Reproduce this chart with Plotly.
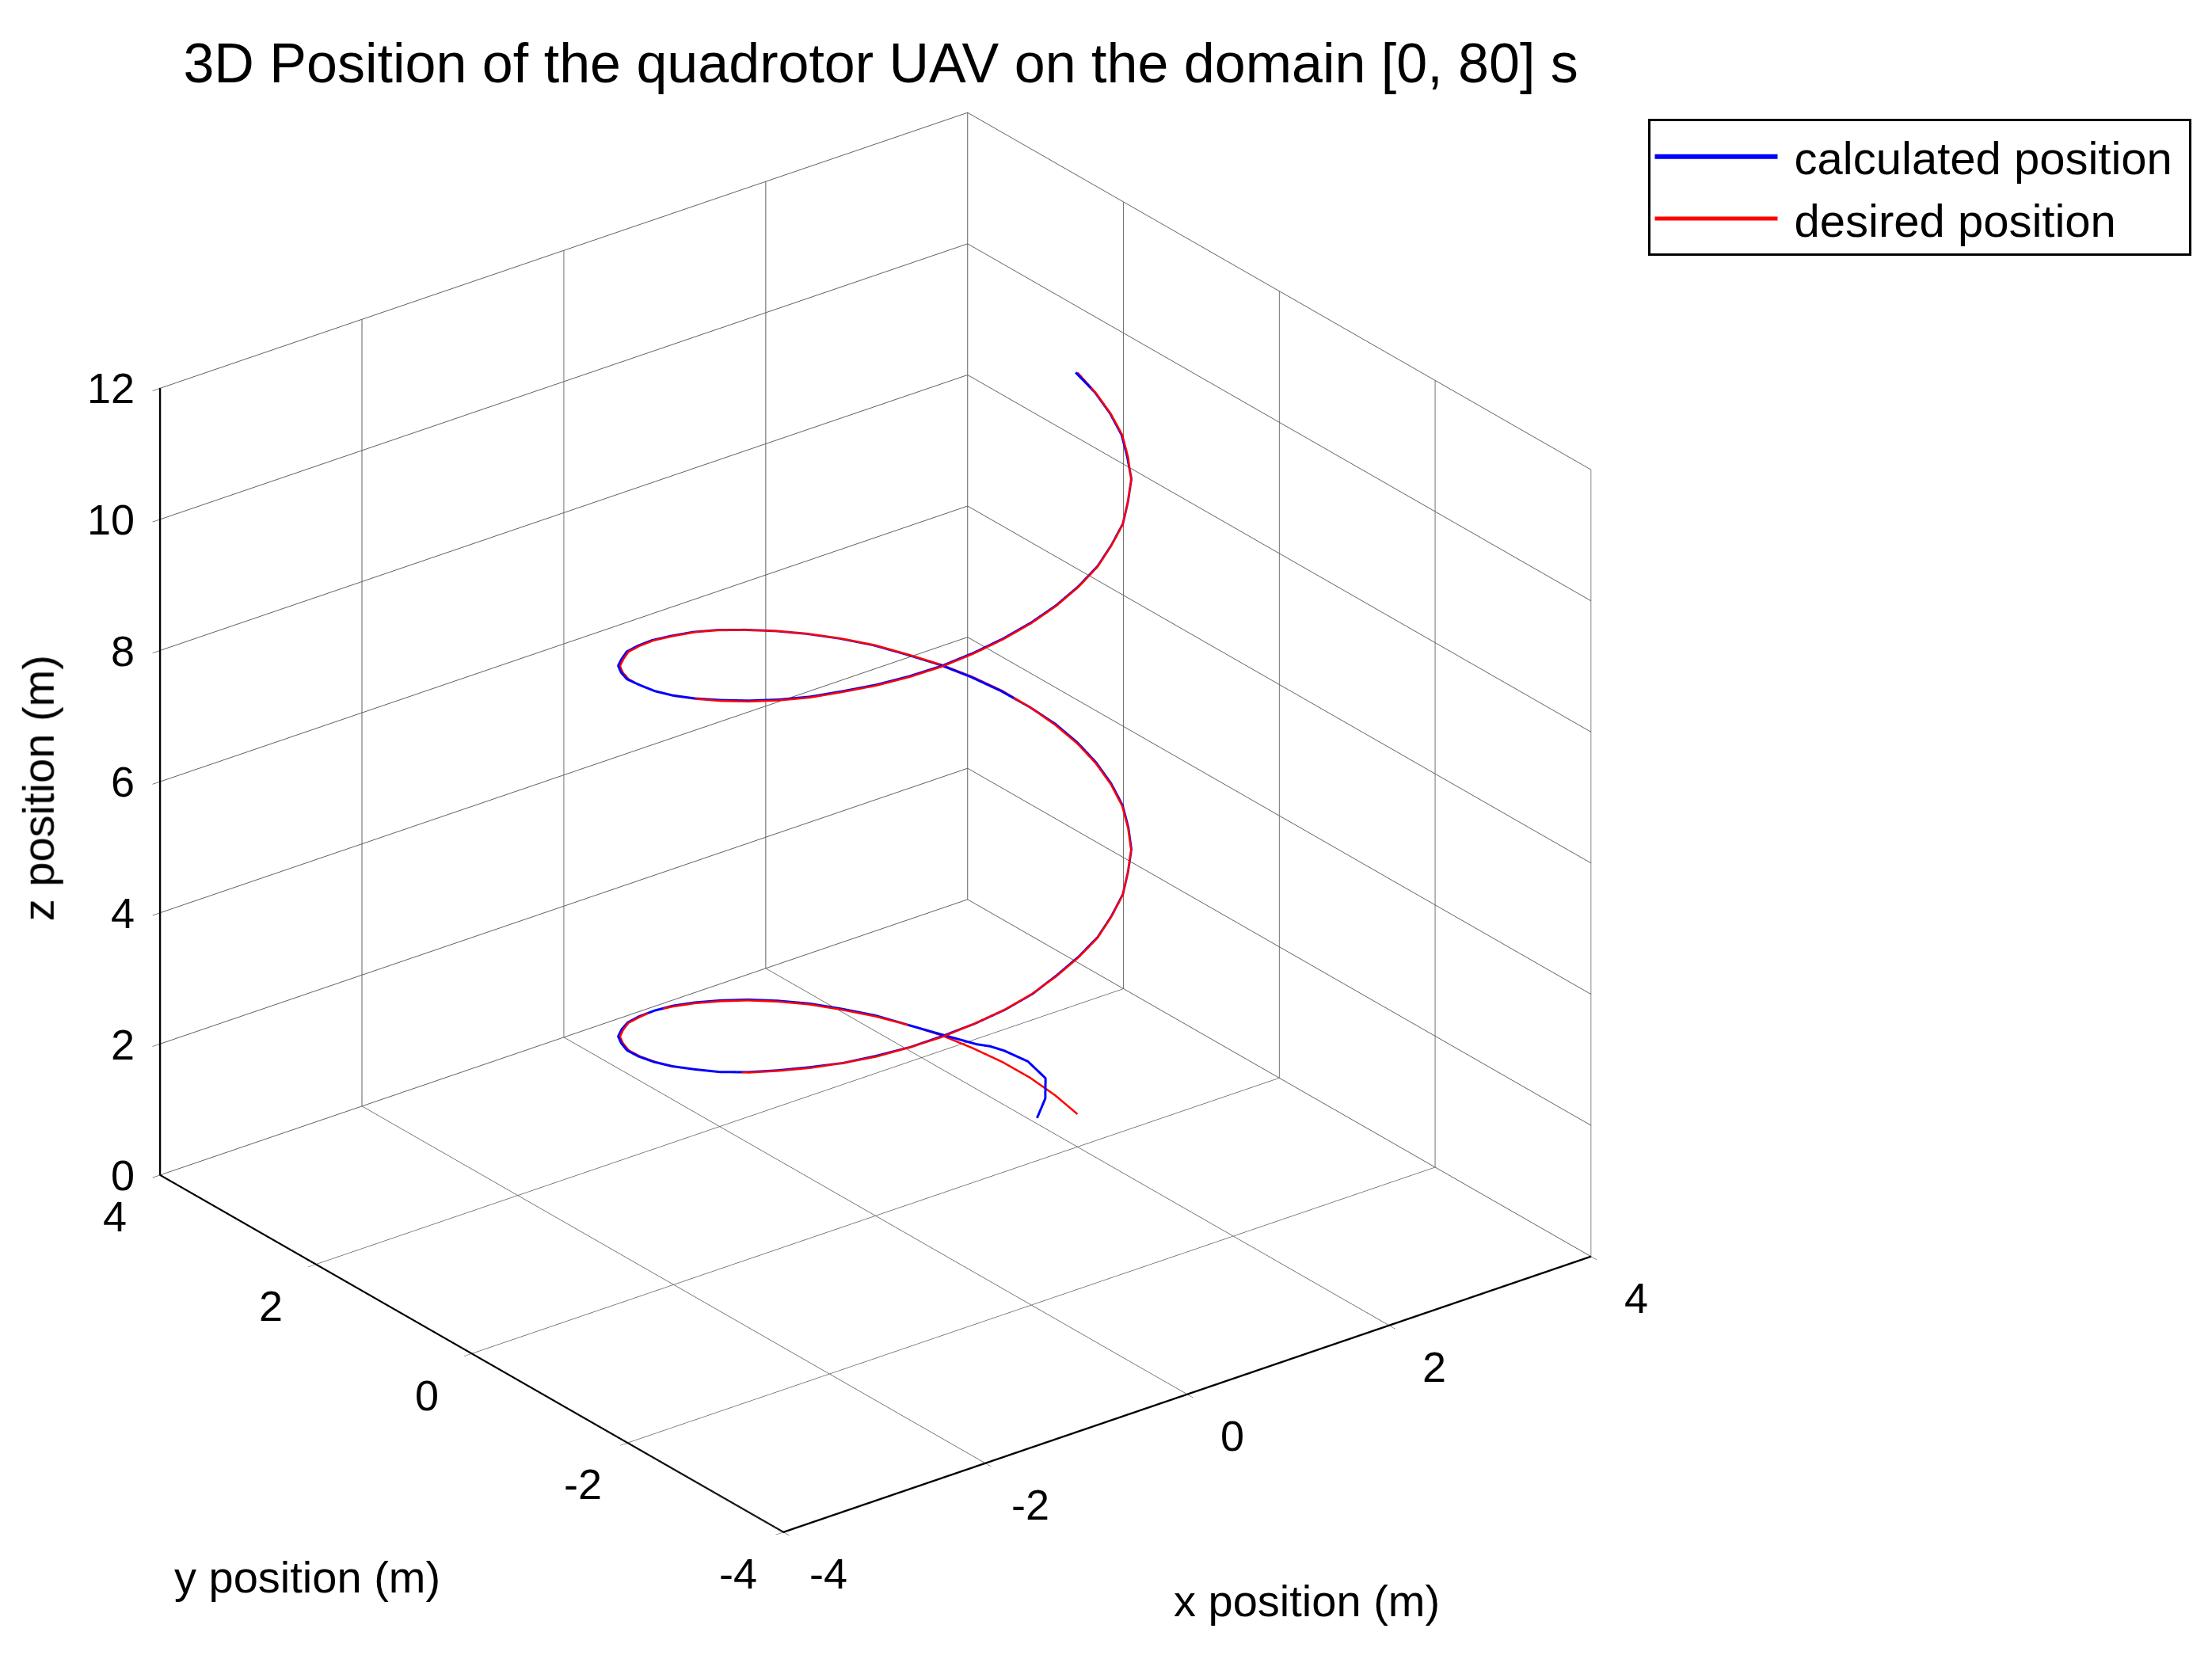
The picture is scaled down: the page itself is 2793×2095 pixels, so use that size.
import plotly.graph_objects as go

DESIRED_X = [2.00, 1.98, 1.93, 1.85, 1.73, 1.59, 1.41, 1.22, 1.00, 0.77, 0.52, 0.26,
             0.00, -0.26, -0.52, -0.77, -1.00, -1.22, -1.41, -1.59, -1.73, -1.85, -1.93, -1.98,
             -2.00, -1.98, -1.93, -1.85, -1.73, -1.59, -1.41, -1.22, -1.00, -0.77, -0.52, -0.26,
             0.00, 0.26, 0.52, 0.77, 1.00, 1.22, 1.41, 1.59, 1.73, 1.85, 1.93, 1.98,
             2.00, 1.98, 1.93, 1.85, 1.73, 1.59, 1.41, 1.22, 1.00, 0.77, 0.52, 0.26,
             0.00, -0.26, -0.52, -0.77, -1.00, -1.22, -1.41, -1.59, -1.73, -1.85, -1.93, -1.98,
             -2.00, -1.98, -1.93, -1.85, -1.73, -1.59, -1.41, -1.22, -1.00, -0.77, -0.52, -0.26,
             0.00, 0.26, 0.52, 0.77, 1.00, 1.22, 1.41, 1.59, 1.73, 1.85, 1.93, 1.98, 2.00]
DESIRED_Y = [0.00, 0.26, 0.52, 0.77, 1.00, 1.22, 1.41, 1.59, 1.73, 1.85, 1.93, 1.98,
             2.00, 1.98, 1.93, 1.85, 1.73, 1.59, 1.41, 1.22, 1.00, 0.77, 0.52, 0.26,
             0.00, -0.26, -0.52, -0.77, -1.00, -1.22, -1.41, -1.59, -1.73, -1.85, -1.93, -1.98,
             -2.00, -1.98, -1.93, -1.85, -1.73, -1.59, -1.41, -1.22, -1.00, -0.77, -0.52, -0.26,
             0.00, 0.26, 0.52, 0.77, 1.00, 1.22, 1.41, 1.59, 1.73, 1.85, 1.93, 1.98,
             2.00, 1.98, 1.93, 1.85, 1.73, 1.59, 1.41, 1.22, 1.00, 0.77, 0.52, 0.26,
             0.00, -0.26, -0.52, -0.77, -1.00, -1.22, -1.41, -1.59, -1.73, -1.85, -1.93, -1.98,
             -2.00, -1.98, -1.93, -1.85, -1.73, -1.59, -1.41, -1.22, -1.00, -0.77, -0.52, -0.26, 0.00]
DESIRED_Z = [0.50, 0.62, 0.74, 0.85, 0.97, 1.09, 1.21, 1.32, 1.44, 1.56, 1.68, 1.80,
             1.91, 2.03, 2.15, 2.27, 2.38, 2.50, 2.62, 2.74, 2.86, 2.97, 3.09, 3.21,
             3.33, 3.45, 3.56, 3.68, 3.80, 3.92, 4.03, 4.15, 4.27, 4.39, 4.51, 4.62,
             4.74, 4.86, 4.98, 5.09, 5.21, 5.33, 5.45, 5.57, 5.68, 5.80, 5.92, 6.04,
             6.15, 6.27, 6.39, 6.51, 6.63, 6.74, 6.86, 6.98, 7.10, 7.21, 7.33, 7.45,
             7.57, 7.69, 7.80, 7.92, 8.04, 8.16, 8.27, 8.39, 8.51, 8.63, 8.75, 8.86,
             8.98, 9.10, 9.22, 9.34, 9.45, 9.57, 9.69, 9.81, 9.92, 10.04, 10.16, 10.28,
             10.40, 10.51, 10.63, 10.75, 10.87, 10.98, 11.10, 11.22, 11.34, 11.46, 11.57, 11.69, 11.81]

# calculated trajectory (blue): take-off transient, then tracks the desired path
CALC_X = [1.60, 1.72, 1.80, 1.78, 1.70, 1.66, 1.62, 1.52,
          1.41, 1.23, 1.01, 0.78, 0.53, 0.27,
          0.01, -0.25, -0.51, -0.76, -1.00, -1.22, -1.42, -1.60, -1.74, -1.86, -1.94, -1.99,
          -2.01, -1.99, -1.94, -1.85, -1.73, -1.58, -1.41, -1.21, -0.99, -0.76, -0.51, -0.25,
          0.01, 0.27, 0.53, 0.78, 1.01, 1.23, 1.42, 1.60, 1.74, 1.86, 1.94, 1.99,
          2.01, 1.99, 1.93, 1.84, 1.72, 1.58, 1.40, 1.21, 0.99, 0.76, 0.51, 0.25,
          -0.01, -0.27, -0.53, -0.78, -1.01, -1.23, -1.42, -1.60, -1.74, -1.86, -1.93, -1.98,
          -2.00, -1.98, -1.92, -1.84, -1.72, -1.58, -1.40, -1.21, -0.99, -0.76, -0.51, -0.25,
          0.01, 0.27, 0.53, 0.78, 1.01, 1.23, 1.42, 1.60, 1.73, 1.85, 1.93, 1.98, 1.99]
CALC_Y = [0.00, 0.05, 0.15, 0.35, 0.55, 0.68, 0.80, 1.10,
          1.41, 1.60, 1.74, 1.86, 1.94, 1.99,
          2.01, 1.99, 1.94, 1.85, 1.74, 1.60, 1.42, 1.23, 1.01, 0.78, 0.53, 0.27,
          0.01, -0.25, -0.51, -0.76, -0.99, -1.21, -1.41, -1.58, -1.73, -1.84, -1.93, -1.98,
          -2.00, -1.97, -1.92, -1.84, -1.72, -1.58, -1.40, -1.21, -0.99, -0.76, -0.51, -0.25,
          0.01, 0.27, 0.53, 0.78, 1.01, 1.23, 1.42, 1.60, 1.74, 1.86, 1.94, 1.99,
          2.01, 1.99, 1.94, 1.86, 1.74, 1.60, 1.42, 1.23, 1.01, 0.78, 0.53, 0.27,
          0.01, -0.25, -0.51, -0.76, -0.99, -1.21, -1.40, -1.58, -1.72, -1.84, -1.92, -1.97,
          -1.99, -1.97, -1.92, -1.84, -1.72, -1.58, -1.40, -1.21, -0.99, -0.76, -0.51, -0.25, 0.01]
CALC_Z = [0.65, 0.85, 1.05, 1.18, 1.25, 1.25, 1.22, 1.21,
          1.21, 1.32, 1.44, 1.56, 1.68, 1.80,
          1.91, 2.03, 2.15, 2.27, 2.38, 2.50, 2.62, 2.74, 2.86, 2.97, 3.09, 3.21,
          3.33, 3.45, 3.56, 3.68, 3.80, 3.92, 4.03, 4.15, 4.27, 4.39, 4.51, 4.62,
          4.74, 4.86, 4.98, 5.09, 5.21, 5.33, 5.45, 5.57, 5.68, 5.80, 5.92, 6.04,
          6.15, 6.27, 6.39, 6.51, 6.63, 6.74, 6.86, 6.98, 7.10, 7.21, 7.33, 7.45,
          7.57, 7.69, 7.80, 7.92, 8.04, 8.16, 8.27, 8.39, 8.51, 8.63, 8.75, 8.86,
          8.98, 9.10, 9.22, 9.34, 9.45, 9.57, 9.69, 9.81, 9.92, 10.04, 10.16, 10.28,
          10.40, 10.51, 10.63, 10.75, 10.87, 10.98, 11.10, 11.22, 11.34, 11.46, 11.57, 11.69, 11.81]

X_TICKS = [-4, -2, 0, 2, 4]
Y_TICKS = [-4, -2, 0, 2, 4]
Z_TICKS = [0, 2, 4, 6, 8, 10, 12]

FONT = "Liberation Sans, Arial, sans-serif"
TICK_FONT = dict(family=FONT, size=54, color="black")


def tick_labels():
    # MATLAB-style upright tick labels, pinned to the front edges of the box
    x0, y0, y1, z0 = X_TICKS[0], Y_TICKS[0], Y_TICKS[-1], Z_TICKS[0]
    notes = []
    for z in Z_TICKS:
        notes.append(dict(x=x0, y=y1, z=z, text=str(z), xanchor="right", yanchor="middle",
                          xshift=-30, showarrow=False, font=TICK_FONT))
    for y in Y_TICKS:
        notes.append(dict(x=x0, y=y, z=z0, text=str(y), xanchor="center", yanchor="middle",
                          xshift=-57, yshift=-52, showarrow=False, font=TICK_FONT))
    for x in X_TICKS:
        notes.append(dict(x=x, y=y0, z=z0, text=str(x), xanchor="center", yanchor="middle",
                          xshift=57, yshift=-52, showarrow=False, font=TICK_FONT))
    return notes


def axis_edges():
    # the three solid box edges that carry the ticks (webgl axis lines stay 1px thin)
    x0, x1 = X_TICKS[0], X_TICKS[-1]
    y0, y1 = Y_TICKS[0], Y_TICKS[-1]
    z0, z1 = Z_TICKS[0], Z_TICKS[-1]
    ex = [x0, x0, None, x0, x0, None, x0, x1]
    ey = [y1, y1, None, y1, y0, None, y0, y0]
    ez = [z1, z0, None, z0, z0, None, z0, z0]
    return ex, ey, ez


fig = go.Figure()
ex, ey, ez = axis_edges()
fig.add_trace(go.Scatter3d(
    x=ex, y=ey, z=ez, mode="lines",
    line=dict(color="black", width=4),
    hoverinfo="skip", showlegend=False,
))
fig.add_trace(go.Scatter3d(
    x=CALC_X, y=CALC_Y, z=CALC_Z, mode="lines",
    line=dict(color="rgb(0,0,255)", width=6),
    name="\u00a0calculated position\u00a0",
))
fig.add_trace(go.Scatter3d(
    x=DESIRED_X, y=DESIRED_Y, z=DESIRED_Z, mode="lines",
    line=dict(color="rgb(255,0,0)", width=5),
    name="\u00a0desired position",
))

axis_style = dict(
    showgrid=True,
    gridcolor="rgb(95,95,95)",
    gridwidth=2,
    zeroline=False,
    showbackground=False,
    showline=True,
    linecolor="black",
    linewidth=5,
    ticks="outside",
    ticklen=12,
    tickcolor="black",
    showticklabels=False,
    showspikes=False,
    title=dict(text=""),
)

fig.update_layout(
    width=2793,
    height=2095,
    margin=dict(l=0, r=0, t=0, b=0),
    paper_bgcolor="white",
    font=dict(family=FONT, color="black"),
    hovermode=False,
    title=dict(
        text="3D Position of the quadrotor UAV on the domain [0, 80] s",
        x=0.08, xanchor="left", y=0.966, yanchor="middle",
        font=dict(family=FONT, size=70, color="black"),
    ),
    scene=dict(
        domain=dict(x=[0.0, 0.786], y=[0.016, 1.0]),
        xaxis=dict(range=[-4, 4], tickvals=X_TICKS, **axis_style),
        yaxis=dict(range=[-4, 4], tickvals=Y_TICKS, **axis_style),
        zaxis=dict(range=[0, 12], tickvals=Z_TICKS, **axis_style),
        aspectmode="manual",
        aspectratio=dict(x=1.25, y=1.25, z=1.075),
        camera=dict(
            eye=dict(x=-0.88, y=-1.14, z=0.71),
            up=dict(x=0, y=0, z=1),
            center=dict(x=0, y=0, z=0),
            projection=dict(type="orthographic"),
        ),
        annotations=tick_labels(),
    ),
    legend=dict(
        x=0.988, xanchor="right", y=0.932, yanchor="top",
        bgcolor="white", bordercolor="black", borderwidth=3,
        font=dict(family=FONT, size=58, color="black"),
        itemwidth=155,
    ),
    annotations=[
        dict(text="z position (m)", x=0.0145, y=0.529, xref="paper", yref="paper",
             xanchor="center", yanchor="middle",
             textangle=-90, showarrow=False, font=dict(family=FONT, size=56)),
        dict(text="y position (m)", x=0.136, y=0.053, xref="paper", yref="paper",
             xanchor="center", yanchor="middle",
             showarrow=False, font=dict(family=FONT, size=56)),
        dict(text="x position (m)", x=0.588, y=0.039, xref="paper", yref="paper",
             xanchor="center", yanchor="middle",
             showarrow=False, font=dict(family=FONT, size=56)),
    ],
)

fig.write_html("out.html")
